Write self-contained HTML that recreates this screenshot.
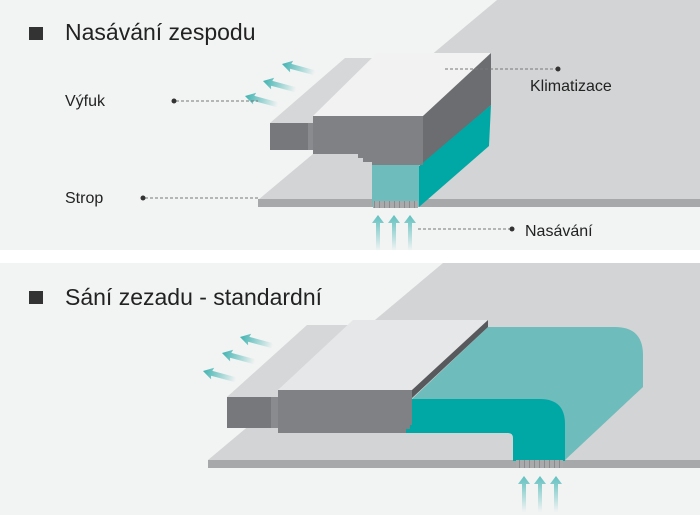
<!DOCTYPE html>
<html><head><meta charset="utf-8"><style>
html,body{margin:0;padding:0;background:#fff}
svg{display:block}
text{font-family:"Liberation Sans",sans-serif;fill:#222}
</style></head><body>
<svg width="700" height="515" viewBox="0 0 700 515" xmlns="http://www.w3.org/2000/svg">
<defs>
<linearGradient id="ga" x1="0" y1="0" x2="1" y2="0"><stop offset="0" stop-color="#3fb3b1"/><stop offset="1" stop-color="#3fb3b1" stop-opacity="0"/></linearGradient>
<linearGradient id="gu" x1="0" y1="0" x2="0" y2="1"><stop offset="0" stop-color="#5fc0bf"/><stop offset="1" stop-color="#5fc0bf" stop-opacity="0"/></linearGradient>
<g id="la"><polygon points="0,0 10,-6 9,-2.5 34,-2.5 34,2.5 9,2.5 10,6" fill="url(#ga)"/></g>
<g id="ua"><polygon points="0,0 6,8 2,8 2,36 -2,36 -2,8 -6,8" fill="url(#gu)"/></g>
<pattern id="gr" width="5" height="8" patternUnits="userSpaceOnUse"><rect width="5" height="8" fill="#a9aaac"/><rect x="4" width="1" height="8" fill="#8a8b8d"/></pattern>
</defs>
<rect width="700" height="515" fill="#f2f3f3"/>
<rect y="250" width="700" height="13" fill="#fff"/>

<!-- TOP PANEL -->
<rect x="29" y="27" width="14" height="13" fill="#333"/>
<text x="65" y="40" font-size="23">Nasávání zespodu</text>
<polygon points="497,0 700,0 700,200 258,200" fill="#d3d4d5"/>
<rect x="258" y="199" width="442" height="8" fill="#a7a8aa"/>
<polygon points="270,123 345,58 380,58 314,117 314,123" fill="#d6d7d8"/>
<rect x="270" y="123" width="44" height="27" fill="#77787b"/>
<rect x="308" y="123" width="6" height="27" fill="#8a8b8e"/>
<polygon points="313,116 377,53 491,53 423,116" fill="#f2f2f2"/>
<polygon points="423,116 491,53 491,105 423,166" fill="#6c6d70"/>
<polygon points="419,166 491,105 489,146 419,207" fill="#00a8a5"/>
<polygon points="313,116 423,116 423,165 372,165 372,162 363,162 363,158 358,158 358,154 313,154" fill="#808184"/>
<rect x="372" y="165" width="47" height="42" fill="#6fbcbd"/>
<rect x="373" y="201" width="45" height="7" fill="url(#gr)"/>
<use href="#la" transform="translate(245,96) rotate(15)"/>
<use href="#la" transform="translate(263,81) rotate(15)"/>
<use href="#la" transform="translate(282,64) rotate(15)"/>
<use href="#ua" transform="translate(378,215)"/>
<use href="#ua" transform="translate(394,215)"/>
<use href="#ua" transform="translate(410,215)"/>
<g stroke="#777" stroke-width="1" stroke-dasharray="3,2" fill="none">
<line x1="176" y1="101" x2="258" y2="101"/>
<line x1="145" y1="198" x2="258" y2="198"/>
<line x1="445" y1="69" x2="556" y2="69"/>
<line x1="418" y1="229" x2="510" y2="229"/>
</g>
<g fill="#333"><circle cx="174" cy="101" r="2.5"/><circle cx="143" cy="198" r="2.5"/><circle cx="558" cy="69" r="2.5"/><circle cx="512" cy="229" r="2.5"/></g>
<text x="65" y="106" font-size="16">Výfuk</text>
<text x="65" y="203" font-size="16">Strop</text>
<text x="530" y="91" font-size="16">Klimatizace</text>
<text x="525" y="236" font-size="16">Nasávání</text>

<!-- BOTTOM PANEL -->
<rect x="29" y="291" width="14" height="13" fill="#333"/>
<text x="65" y="305" font-size="23">Sání zezadu - standardní</text>
<polygon points="443,263 700,263 700,460 208,460" fill="#d3d4d5"/>
<rect x="208" y="460" width="492" height="8" fill="#a7a8aa"/>
<polygon points="227,397 307,325 350,325 278,390 278,397" fill="#d6d7d8"/>
<rect x="227" y="397" width="45" height="31" fill="#77787b"/>
<rect x="271" y="397" width="7" height="31" fill="#8a8b8e"/>
<path d="M412,399 L488,327 L615,327 Q643,327 643,355 L643,387 L565,460 L565,424 L540,399 Z" fill="#6fbcbd"/>
<path d="M405,399 L540,399 Q565,399 565,424 L565,461 L513,461 L513,438 Q513,433 508,433 L405,433 Z" fill="#00a8a5"/>
<polygon points="278,390 353,320 488,320 412,390" fill="#e6e7e8"/>
<polygon points="412,390 488,320 488,327 412,398" fill="#58595c"/>
<polygon points="278,390 412,390 412,425 410,425 410,429 406,429 406,433 278,433" fill="#808184"/>
<rect x="516" y="460" width="47" height="8" fill="url(#gr)"/>
<use href="#la" transform="translate(203,371) rotate(15)"/>
<use href="#la" transform="translate(222,353) rotate(15)"/>
<use href="#la" transform="translate(240,337) rotate(15)"/>
<use href="#ua" transform="translate(524,476)"/>
<use href="#ua" transform="translate(540,476)"/>
<use href="#ua" transform="translate(556,476)"/>
</svg>
</body></html>
